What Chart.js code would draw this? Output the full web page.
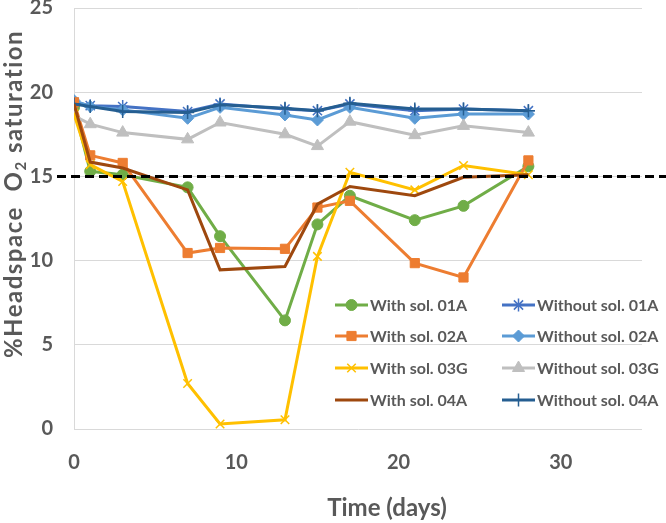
<!DOCTYPE html>
<html lang="en">

<head>
  <meta charset="UTF-8">
  <title>Headspace O2</title>
  <style>
    html,
    body {
      margin: 0;
      padding: 0;
      background: #fff;
    }

    #wrap {
      width: 666px;
      height: 523px;
    }
  </style>
</head>

<body>
  <div id="wrap"><canvas id="myChart"></canvas></div>
  <script src="https://cdn.jsdelivr.net/npm/chart.js@4.4.0/dist/chart.umd.min.js"></script>
  <script>
    // sampling days
    const days = [0, 1, 3, 7, 9, 13, 15, 17, 21, 24, 28]

    // % headspace O2
    const with01A = [19.1, 15.3, 15.1, 14.35, 11.45, 6.45, 12.15, 13.85, 12.4, 13.25, 15.6]
    const with02A = [19.4, 16.25, 15.8, 10.45, 10.75, 10.7, 13.15, 13.55, 9.85, 9.0, 15.95]
    const with03G = [18.7, 15.7, 14.7, 2.7, 0.3, 0.55, 10.25, 15.25, 14.2, 15.65, 15.1]
    const with04A = [19.3, 15.85, 15.5, 14.2, 9.45, 9.65, 13.35, 14.4, 13.85, 14.95, 15.1]
    const without01A = [19.4, 19.2, 19.15, 18.85, 19.3, 19.0, 18.9, 19.3, 18.9, 19.0, 18.9]
    const without02A = [19.5, 19.15, 18.95, 18.45, 19.1, 18.65, 18.35, 19.1, 18.45, 18.7, 18.7]
    const without03G = [18.6, 18.1, 17.6, 17.2, 18.2, 17.5, 16.8, 18.25, 17.45, 18.0, 17.6]
    const without04A = [19.3, 19.15, 18.85, 18.8, 19.25, 19.05, 18.9, 19.35, 19.0, 19.0, 18.9]

    const threshold = 15

    const yTicks = [0, 5, 10, 15, 20, 25]
    const xTicks = [0, 10, 20, 30]

    const xTitle = 'Time (days)'
    const yTitleParts = ['%Headspace  O', '2', ' saturation']

    const textColor = '#595959'
    const font = 'Lato'

    function points(values) {
      return days.map((d, i) => ({ x: d, y: values[i] }))
    }

    function series(label, values, color, style, radius) {
      const stroked = ['star', 'cross', 'crossRot'].includes(style)
      return {
        label: label,
        data: points(values),
        borderColor: color,
        backgroundColor: color,
        borderWidth: 3,
        tension: 0,
        pointStyle: style || 'circle',
        pointRadius: style ? radius : 0,
        pointHoverRadius: style ? radius : 0,
        pointBorderWidth: stroked ? 1.5 : 1,
        pointBackgroundColor: color,
        pointBorderColor: color
      }
    }

    const datasets = [
      series('With sol. 01A', with01A, '#70AD47', 'circle', 5.5),
      series('With sol. 02A', with02A, '#ED7D31', 'rect', 6.5),
      series('With sol. 03G', with03G, '#FFC000', 'crossRot', 6),
      series('With sol. 04A', with04A, '#9E480E', null, 0),
      series('Without sol. 01A', without01A, '#4472C4', 'star', 6.5),
      series('Without sol. 02A', without02A, '#5B9BD5', 'rectRot', 6),
      series('Without sol. 03G', without03G, '#BFBFBF', 'triangle', 7),
      series('Without sol. 04A', without04A, '#255E91', 'cross', 6.5)
    ]
    // draw order like the original: "without" lines behind
    datasets.forEach((ds, i) => { ds.order = i < 4 ? 8 - i : 12 - i })

    // dashed reference line at 15 %
    const thresholdLine = {
      id: 'thresholdLine',
      afterDatasetsDraw(chart) {
        const ctx = chart.ctx
        const y = chart.scales.y.getPixelForValue(threshold)
        ctx.save()
        ctx.strokeStyle = '#000'
        ctx.lineWidth = 3
        ctx.setLineDash([9, 5])
        ctx.beginPath()
        ctx.moveTo(57, y)
        ctx.lineTo(chart.width, y)
        ctx.stroke()
        ctx.restore()
      }
    }

    // axis titles, placed like the original (x title sits right of centre)
    const axisTitles = {
      id: 'axisTitles',
      afterDraw(chart) {
        const ctx = chart.ctx
        ctx.save()
        ctx.fillStyle = textColor
        ctx.textBaseline = 'middle'
        ctx.textAlign = 'center'
        ctx.font = 'bold 24px ' + font
        ctx.fillText(xTitle, 387, 508)

        // rotated y title with a real subscript
        const big = 'bold 24px ' + font
        const small = 'bold 15px ' + font
        ctx.translate(14, 194)
        ctx.rotate(-Math.PI / 2)
        ctx.textAlign = 'left'
        ctx.textBaseline = 'alphabetic'
        ctx.letterSpacing = '1.5px'
        const widths = yTitleParts.map((t, i) => {
          ctx.font = i === 1 ? small : big
          return ctx.measureText(t).width
        })
        let x = -widths.reduce((a, b) => a + b, 0) / 2
        yTitleParts.forEach((t, i) => {
          ctx.font = i === 1 ? small : big
          ctx.fillText(t, x, i === 1 ? 12 : 8)
          x += widths[i]
        })
        ctx.restore()
      }
    }

    // two-column legend sitting inside the plot
    const innerLegend = {
      id: 'innerLegend',
      afterDraw(chart) {
        const ctx = chart.ctx
        const colX = [335, 502]
        const rowY = [305, 336, 368, 400]
        ctx.save()
        ctx.font = 'bold 16px ' + font
        ctx.textBaseline = 'middle'
        chart.data.datasets.forEach((ds, i) => {
          const x = colX[Math.floor(i / 4)]
          const y = rowY[i % 4]
          ctx.strokeStyle = ds.borderColor
          ctx.lineWidth = 3
          ctx.setLineDash([])
          ctx.beginPath()
          ctx.moveTo(x, y)
          ctx.lineTo(x + 33, y)
          ctx.stroke()
          if (ds.pointRadius > 0 && Chart.helpers && Chart.helpers.drawPoint) {
            ctx.fillStyle = ds.pointBackgroundColor
            ctx.strokeStyle = ds.pointBorderColor
            ctx.lineWidth = ds.pointBorderWidth
            Chart.helpers.drawPoint(ctx, {
              pointStyle: ds.pointStyle,
              radius: ds.pointRadius,
              rotation: 0,
              borderWidth: ds.pointBorderWidth
            }, x + 16.5, y)
          }
          ctx.fillStyle = textColor
          ctx.fillText(ds.label, x + 35, y + 1)
        })
        ctx.restore()
      }
    }

    function drawChart() {
      const context = document.querySelector('#myChart').getContext('2d')
      new Chart(context, {
        type: 'line',
        data: { datasets: datasets },
        plugins: [thresholdLine, innerLegend, axisTitles],
        options: {
          responsive: true,
          maintainAspectRatio: false,
          animation: false,
          layout: { padding: { left: 0, right: 24, top: 8, bottom: 2 } },
          plugins: {
            legend: { display: false },
            tooltip: { enabled: false }
          },
          scales: {
            x: {
              type: 'linear',
              min: 0,
              max: 35,
              afterBuildTicks: scale => {
                scale.ticks = xTicks.map(v => ({ value: v }))
              },
              afterFit: scale => { scale.height = 92 },
              grid: { display: false, drawTicks: false },
              border: { display: false },
              ticks: {
                padding: 22,
                color: textColor,
                font: { family: font, size: 20, weight: 'bold' }
              }
            },
            y: {
              min: 0,
              max: 25,
              afterBuildTicks: scale => {
                scale.ticks = yTicks.map(v => ({ value: v }))
              },
              afterFit: scale => {
                scale.width = 74
                scale.paddingTop = 0
                scale.paddingBottom = 0
              },
              grid: { color: '#D9D9D9', lineWidth: 1, drawTicks: false },
              border: { display: true, color: '#D9D9D9', width: 1 },
              ticks: {
                padding: 21,
                color: textColor,
                font: { family: font, size: 20, weight: 'bold' }
              }
            }
          }
        }
      })
    }

    window.onload = () => {
      drawChart()
    }
  </script>
</body>

</html>
